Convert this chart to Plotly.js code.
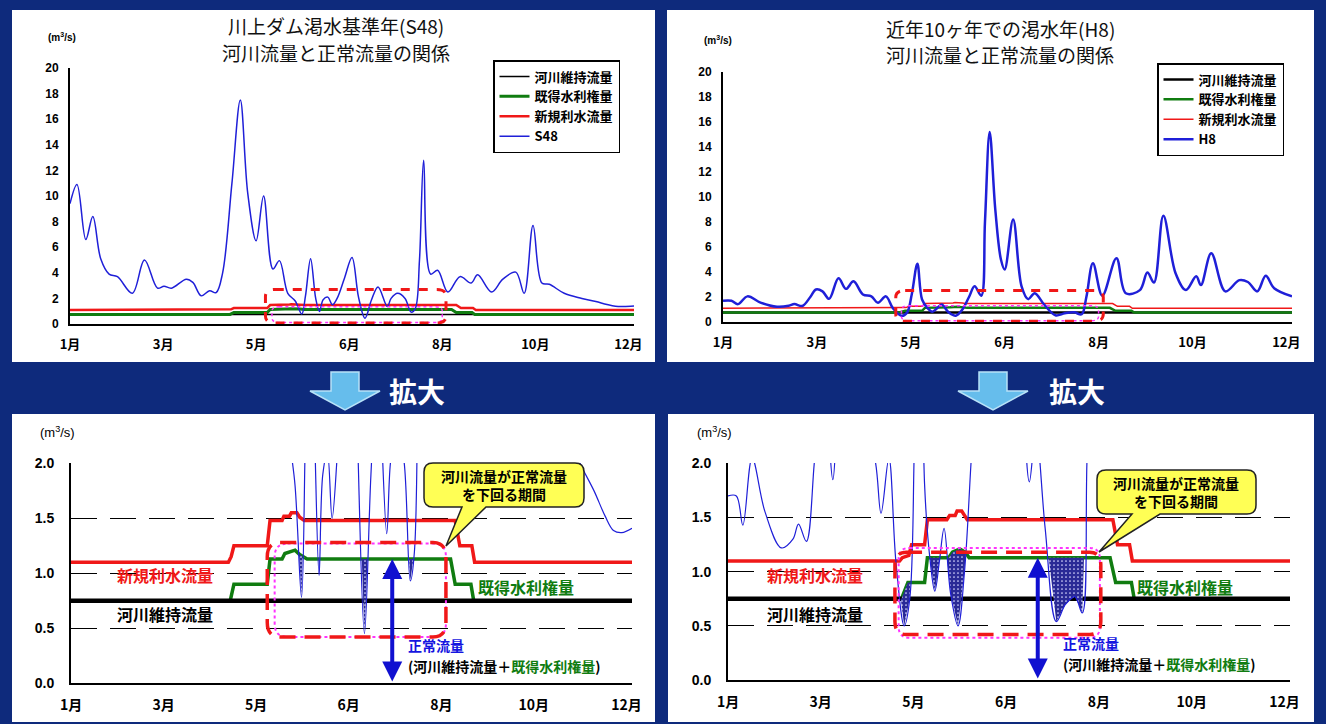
<!DOCTYPE html>
<html><head><meta charset="utf-8">
<script src="https://cdn.plot.ly/plotly-3.0.1.min.js"></script>
<style>html,body{margin:0;padding:0;background:#0e2a7c;}#chart{width:1326px;height:724px;}</style>
</head><body><div id="chart"></div>
<script>
// ---------- tick labels ----------
const monthTickVals = [0, 1, 2, 3, 4, 5, 6];
const monthTickText = ['1月', '3月', '5月', '6月', '8月', '10月', '12月'];

// ---------- river flow S48 (m3/s) ----------
const tS48 = [0, 0.075, 0.17, 0.245, 0.33, 0.42, 0.51, 0.67, 0.8, 0.94, 1.01, 1.09, 1.25, 1.32, 1.41, 1.5, 1.57, 1.64,
  1.74, 1.83, 1.91, 2.0, 2.08, 2.18, 2.25, 2.34, 2.42, 2.49, 2.53, 2.585, 2.64, 2.68, 2.72, 2.77, 2.82, 2.87, 2.95,
  3.03, 3.1, 3.17, 3.24, 3.31, 3.41, 3.45, 3.52, 3.6, 3.665, 3.71, 3.755, 3.8, 3.875, 3.95, 4.06, 4.19, 4.31, 4.38,
  4.53, 4.65, 4.79, 4.88, 4.975, 5.07, 5.15, 5.31, 5.5, 5.65, 5.77, 5.86, 5.95, 6.06];
const vS48 = [9.4, 10.9, 6.6, 8.4, 5.1, 3.9, 3.7, 2.4, 5.0, 2.8, 2.95, 2.8, 3.5, 3.25, 2.2, 2.6, 2.45, 4.0,
  11.0, 17.5, 10.2, 6.5, 10.0, 4.3, 4.95, 2.4, 1.8, 0.78, 2.2, 5.1, 2.0, 0.98, 1.9, 2.1, 1.5, 2.0, 3.6,
  5.2, 2.1, 0.45, 1.9, 2.9, 1.36, 2.0, 2.4, 2.0, 0.93, 1.2, 5.0, 12.8, 3.9, 4.2, 2.5, 3.7, 3.2, 3.85,
  2.5, 3.5, 4.05, 2.4, 7.7, 3.2, 3.1, 2.4, 2.0, 1.75, 1.52, 1.39, 1.37, 1.41];

// ---------- river flow H8 (m3/s) ----------
const tH8 = [0, 0.09, 0.16, 0.26, 0.40, 0.575, 0.70, 0.76, 0.845, 0.93, 0.99, 1.06, 1.13, 1.23, 1.31, 1.39, 1.49, 1.58,
  1.65, 1.735, 1.81, 1.90, 1.96, 2.01, 2.07, 2.12, 2.18, 2.23, 2.28, 2.33, 2.40, 2.48, 2.55, 2.62, 2.68, 2.75, 2.79,
  2.84, 2.90, 2.96, 3.0, 3.09, 3.18, 3.25, 3.32, 3.42, 3.54, 3.64, 3.74, 3.82, 3.87, 3.94, 4.04, 4.19, 4.29, 4.44,
  4.52, 4.59, 4.69, 4.82, 4.93, 5.04, 5.09, 5.20, 5.35, 5.50, 5.59, 5.69, 5.78, 5.87, 6.06];
const vH8 = [1.70, 1.70, 1.43, 2.05, 1.55, 1.22, 1.30, 1.44, 1.28, 2.0, 2.6, 2.45, 1.85, 3.5, 2.65, 3.25, 2.2, 2.05,
  1.54, 2.05, 1.1, 0.5, 0.75, 2.2, 4.65, 1.8, 1.1, 0.82, 1.1, 1.4, 0.8, 0.5, 1.0, 2.0, 2.85, 2.1, 8.0,
  15.2, 9.0, 5.0, 4.2, 8.2, 2.85, 1.83, 2.3, 1.4, 0.54, 0.7, 0.77, 0.62, 2.0, 4.7, 2.1, 5.1, 2.3, 2.55,
  3.95, 3.15, 8.5, 3.9, 2.55, 3.65, 2.95, 5.5, 2.45, 3.35, 3.2, 2.45, 3.7, 2.7, 2.05];

// ---------- maintenance flow 河川維持流量 ----------
const tMaint = [0, 6.06];
const vMaint = [0.75, 0.75];

// ---------- 既得水利権量 / 新規利水流量 (S48) ----------
const tRightsS48 = [0, 1.72, 1.76, 2.12, 2.15, 2.28, 2.31, 2.38, 2.42, 2.47, 2.52, 2.55, 4.1, 4.15, 4.32, 4.35, 6.06];
const vRightsS48 = [0.75, 0.75, 0.9, 0.9, 1.13, 1.13, 1.18, 1.2, 1.21, 1.17, 1.14, 1.13, 1.13, 0.9, 0.9, 0.75, 0.75];
const tNewS48 = [0, 1.7, 1.73, 1.76, 2.12, 2.15, 2.28, 2.3, 2.36, 2.38, 2.44, 2.47, 2.52, 4.15, 4.2, 4.33, 4.36, 6.06];
const vNewS48 = [1.1, 1.1, 1.15, 1.25, 1.25, 1.48, 1.48, 1.52, 1.52, 1.55, 1.55, 1.51, 1.48, 1.48, 1.25, 1.25, 1.1, 1.1];

// ---------- 既得水利権量 / 新規利水流量 (H8) ----------
const tRightsH8 = [0, 1.87, 1.94, 2.12, 2.15, 2.38, 2.42, 2.5, 2.56, 2.6, 4.12, 4.18, 4.35, 4.38, 6.06];
const vRightsH8 = [0.75, 0.75, 0.9, 0.9, 1.13, 1.13, 1.18, 1.21, 1.18, 1.13, 1.13, 0.9, 0.9, 0.75, 0.75];
const tNewH8 = [0, 1.85, 1.88, 1.95, 1.98, 2.12, 2.15, 2.36, 2.39, 2.45, 2.47, 2.52, 2.55, 2.58, 4.15, 4.2, 4.33, 4.36, 6.06];
const vNewH8 = [1.1, 1.1, 1.13, 1.15, 1.25, 1.25, 1.48, 1.48, 1.52, 1.52, 1.56, 1.56, 1.52, 1.48, 1.48, 1.25, 1.25, 1.1, 1.1];

// ---------- highlighted periods (t0, t1) ----------
const periodS48 = [2.12, 4.05];
const periodH8 = [1.82, 4.03];

// ======================================================
const W = 1326, H = 724;
const px = x => x / W;
const py = y => 1 - y / H;
const JP = '"Noto Sans CJK JP", "Noto Sans", sans-serif';
const NUM = '"Liberation Sans", Arial, "Noto Sans CJK JP", sans-serif';
const BLUE = '#1f1fd8', RED = '#f01818', GREEN = '#107c10', BLACK = '#000000';

function lerp(ts, vs, t) {
  if (t <= ts[0]) return vs[0];
  for (let i = 0; i < ts.length - 1; i++) {
    if (t <= ts[i + 1]) {
      const a = ts[i], b = ts[i + 1];
      return b === a ? vs[i + 1] : vs[i] + (vs[i + 1] - vs[i]) * (t - a) / (b - a);
    }
  }
  return vs[vs.length - 1];
}
function deficit(tB, vB, tG, vG) {
  const ts = Array.from(new Set([...tB, ...tG])).sort((a, b) => a - b);
  const d = t => lerp(tB, vB, t) - lerp(tG, vG, t);
  const out = [];
  for (let i = 0; i < ts.length; i++) {
    out.push(ts[i]);
    if (i < ts.length - 1) {
      const d0 = d(ts[i]), d1 = d(ts[i + 1]);
      if (d0 * d1 < 0) out.push(ts[i] + (ts[i + 1] - ts[i]) * d0 / (d0 - d1));
    }
  }
  return {
    x: out,
    low: out.map(t => Math.min(lerp(tB, vB, t), lerp(tG, vG, t))),
    top: out.map(t => lerp(tG, vG, t))
  };
}

const traces = [];
function topPanel(xa, ya, leg, tB, vB, nameB, tR, vR, tN, vN, w) {
  traces.push({x: tMaint, y: vMaint, name: '河川維持流量', mode: 'lines', xaxis: xa, yaxis: ya, legend: leg,
    line: {color: BLACK, width: w.k}, hoverinfo: 'skip'});
  traces.push({x: tR, y: vR, name: '既得水利権量', mode: 'lines', xaxis: xa, yaxis: ya, legend: leg,
    line: {color: GREEN, width: w.g}, hoverinfo: 'skip'});
  traces.push({x: tN, y: vN, name: '新規利水流量', mode: 'lines', xaxis: xa, yaxis: ya, legend: leg,
    line: {color: RED, width: w.r}, hoverinfo: 'skip'});
  traces.push({x: tB, y: vB, name: nameB, mode: 'lines', xaxis: xa, yaxis: ya, legend: leg,
    line: {color: BLUE, width: w.b, shape: 'spline', smoothing: 1}, hoverinfo: 'skip'});
}
function bottomPanel(xa, ya, tB, vB, tR, vR, tN, vN) {
  const common = {mode: 'lines', xaxis: xa, yaxis: ya, showlegend: false, hoverinfo: 'skip'};
  traces.push(Object.assign({x: tR, y: vR, line: {color: GREEN, width: 3.5}}, common));
  traces.push(Object.assign({x: tN, y: vN, line: {color: RED, width: 3.5}}, common));
  traces.push(Object.assign({x: tMaint, y: vMaint, line: {color: BLACK, width: 4.5}}, common));
  const f = deficit(tB, vB, tR, vR);
  traces.push(Object.assign({x: f.x, y: f.low, line: {width: 0, color: 'rgba(0,0,0,0)'}}, common));
  traces.push(Object.assign({x: f.x, y: f.top, line: {width: 0, color: 'rgba(0,0,0,0)'}, fill: 'tonexty',
    fillcolor: '#2a2a96',
    fillpattern: {shape: '.', bgcolor: '#2a2a96', fgcolor: '#d8d8ff', size: 4, solidity: 0.15}}, common));
  traces.push(Object.assign({x: tB, y: vB, line: {color: BLUE, width: 1.2, shape: 'spline', smoothing: 1}}, common));
}

topPanel('x', 'y', 'legend', tS48, vS48, 'S48', tRightsS48, vRightsS48, tNewS48, vNewS48, {k: 1.5, g: 3, r: 2.5, b: 1.5});
topPanel('x2', 'y2', 'legend2', tH8, vH8, 'H8', tRightsH8, vRightsH8, tNewH8, vNewH8, {k: 2.5, g: 2.5, r: 1.5, b: 2.5});
bottomPanel('x3', 'y3', tS48, vS48, tRightsS48, vRightsS48, tNewS48, vNewS48);
bottomPanel('x4', 'y4', tH8, vH8, tRightsH8, vRightsH8, tNewH8, vNewH8);

// ---------- axes ----------
function xAxis(x0, x1, anchor, size, standoff) {
  return {domain: [px(x0), px(x1)], range: [0, 6.06], anchor: anchor, tickvals: monthTickVals, ticktext: monthTickText,
    showline: true, linecolor: '#000', linewidth: 2, ticks: '', showgrid: false, zeroline: false, fixedrange: true,
    ticklabelstandoff: standoff, tickfont: {family: JP, size: size, color: '#000', weight: 'bold'}};
}
function yAxisTop(y0, y1, anchor) {
  return {domain: [py(y1), py(y0)], range: [0, 20], dtick: 2, tick0: 0, anchor: anchor,
    showline: true, linecolor: '#000', linewidth: 2, ticks: '', showgrid: false, zeroline: false, fixedrange: true,
    ticklabelstandoff: 7, tickfont: {family: NUM, size: 12, color: '#000', weight: 'bold'}};
}
function yAxisBottom(y0, y1, anchor) {
  return {domain: [py(y1), py(y0)], range: [0, 2.004], dtick: 0.5, tick0: 0, tickformat: '.1f', anchor: anchor,
    showline: true, linecolor: '#000', linewidth: 2, ticks: '', showgrid: true, gridcolor: '#000', gridwidth: 1,
    griddash: '26px,13px', zeroline: false, fixedrange: true,
    ticklabelstandoff: 12, tickfont: {family: NUM, size: 14, color: '#000', weight: 'bold'}};
}

// ---------- shapes ----------
function rrect(x0, x1, y0, y1, rx, ry) {
  return `M${x0 + rx},${y1} L${x1 - rx},${y1} Q${x1},${y1} ${x1},${y1 - ry} L${x1},${y0 + ry} Q${x1},${y0} ${x1 - rx},${y0} ` +
    `L${x0 + rx},${y0} Q${x0},${y0} ${x0},${y0 + ry} L${x0},${y1 - ry} Q${x0},${y1} ${x0 + rx},${y1} Z`;
}
const P = (x, y) => `${px(x)},${py(y)}`;
function callout(x0, x1, y0, y1, a, b, tx, ty) {
  const r = 9;
  return `M${P(x0 + r, y0)} L${P(x1 - r, y0)} Q${P(x1, y0)} ${P(x1, y0 + r)} L${P(x1, y1 - r)} Q${P(x1, y1)} ${P(x1 - r, y1)} ` +
    `L${P(b, y1)} L${P(tx, ty)} L${P(a, y1)} L${P(x0 + r, y1)} Q${P(x0, y1)} ${P(x0, y1 - r)} L${P(x0, y0 + r)} Q${P(x0, y0)} ${P(x0 + r, y0)} Z`;
}
function downArrow(cx) {
  return `M${P(cx - 14, 372)} L${P(cx + 14, 372)} L${P(cx + 14, 391)} L${P(cx + 35, 391)} L${P(cx, 410)} ` +
    `L${P(cx - 35, 391)} L${P(cx - 14, 391)} Z`;
}
const shapes = [
  // panels
  {type: 'rect', xref: 'paper', yref: 'paper', x0: px(12), x1: px(655), y0: py(362), y1: py(10), fillcolor: '#fff', line: {width: 0}, layer: 'below'},
  {type: 'rect', xref: 'paper', yref: 'paper', x0: px(667), x1: px(1314), y0: py(362), y1: py(10), fillcolor: '#fff', line: {width: 0}, layer: 'below'},
  {type: 'rect', xref: 'paper', yref: 'paper', x0: px(12), x1: px(655), y0: py(722), y1: py(414), fillcolor: '#fff', line: {width: 0}, layer: 'below'},
  {type: 'rect', xref: 'paper', yref: 'paper', x0: px(668), x1: px(1314), y0: py(722), y1: py(414), fillcolor: '#fff', line: {width: 0}, layer: 'below'},
  // 拡大 arrows
  {type: 'path', xref: 'paper', yref: 'paper', path: downArrow(345), fillcolor: '#66bdec', line: {color: '#b8e2f8', width: 1.5}},
  {type: 'path', xref: 'paper', yref: 'paper', path: downArrow(993), fillcolor: '#66bdec', line: {color: '#b8e2f8', width: 1.5}},
  // top-left highlight boxes
  {type: 'path', xref: 'x', yref: 'y', path: rrect(2.17, 4.0, 0.12, 1.35, 0.08, 0.35), line: {color: '#ff33ff', width: 1.5, dash: 'dot'}},
  {type: 'path', xref: 'x', yref: 'y', path: rrect(periodS48[0] - 0.02, periodS48[1] - 0.01, 0.08, 2.7, 0.1, 0.55), line: {color: RED, width: 3, dash: 'dash'}},
  // top-right highlight boxes
  {type: 'path', xref: 'x2', yref: 'y2', path: rrect(1.9, 4.0, 0.1, 1.3, 0.08, 0.35), line: {color: '#ff33ff', width: 1.5, dash: 'dot'}},
  {type: 'path', xref: 'x2', yref: 'y2', path: rrect(periodH8[0] + 0.02, periodH8[1] + 0.02, 0.06, 2.52, 0.1, 0.55), line: {color: RED, width: 3, dash: 'dash'}},
  // bottom-left
  {type: 'path', xref: 'x3', yref: 'y3', path: rrect(periodS48[0] + 0.08, periodS48[1], 0.42, 1.27, 0.14, 0.12), line: {color: '#ff33ff', width: 2, dash: 'dot'}},
  {type: 'path', xref: 'x3', yref: 'y3', path: rrect(periodS48[0], periodS48[1], 0.42, 1.28, 0.14, 0.13), line: {color: RED, width: 3.5, dash: '16px,9px'}},
  // bottom-right
  {type: 'path', xref: 'x4', yref: 'y4', path: rrect(periodH8[0] + 0.02, periodH8[1] - 0.02, 0.39, 1.22, 0.12, 0.1), line: {color: '#ff33ff', width: 2, dash: 'dot'}},
  {type: 'path', xref: 'x4', yref: 'y4', path: rrect(periodH8[0] - 0.02, periodH8[1] - 0.01, 0.42, 1.18, 0.12, 0.12), line: {color: RED, width: 3.5, dash: '16px,9px'}},
  // callouts
  {type: 'path', xref: 'paper', yref: 'paper', path: callout(424, 584, 463, 507, 462, 486, 446, 546), fillcolor: '#ffff55', line: {color: '#222', width: 1.5}},
  {type: 'path', xref: 'paper', yref: 'paper', path: callout(1097, 1256, 470, 514, 1132, 1160, 1099, 552), fillcolor: '#ffff55', line: {color: '#222', width: 1.5}}
];

// ---------- annotations ----------
function txt(x, y, text, size, color, weight, family, xanchor) {
  return {xref: 'paper', yref: 'paper', x: px(x), y: py(y), text: text, showarrow: false,
    xanchor: xanchor || 'center', yanchor: 'middle',
    font: {family: family || JP, size: size, color: color, weight: weight || 'bold'}};
}
const unit = '(m<sup>3</sup>/s)';
const annotations = [
  txt(336, 26, '川上ダム渇水基準年(S48)', 19, '#111', 'normal'),
  txt(336, 52, '河川流量と正常流量の関係', 19, '#111', 'normal'),
  txt(1000, 29, '近年10ヶ年での渇水年(H8)', 19, '#111', 'normal'),
  txt(1000, 55, '河川流量と正常流量の関係', 19, '#111', 'normal'),
  txt(62, 37, unit, 10, '#000', 'bold', NUM),
  txt(718, 40, unit, 10, '#000', 'bold', NUM),
  txt(58, 432, unit, 13, '#000', 'normal', NUM),
  txt(714, 432, unit, 13, '#000', 'normal', NUM),
  txt(417, 391, '拡大', 28, '#ffffff', 'bold'),
  txt(1077, 391, '拡大', 28, '#ffffff', 'bold'),
  // bottom-left labels
  txt(165, 575, '新規利水流量', 16, RED),
  txt(165, 614, '河川維持流量', 16, '#000'),
  txt(526, 587, '既得水利権量', 16, GREEN),
  txt(406, 645, '正常流量', 14, '#1515e0', 'bold', JP, 'left'),
  txt(406, 666, '(河川維持流量＋<span style="color:' + GREEN + '">既得水利権量</span>)', 14, '#000', 'bold', JP, 'left'),
  txt(504, 485, '河川流量が正常流量<br>を下回る期間', 14, '#000'),
  // bottom-right labels
  txt(815, 575, '新規利水流量', 16, RED),
  txt(815, 614, '河川維持流量', 16, '#000'),
  txt(1185, 587, '既得水利権量', 16, GREEN),
  txt(1061, 643, '正常流量', 14, '#1515e0', 'bold', JP, 'left'),
  txt(1061, 664, '(河川維持流量＋<span style="color:' + GREEN + '">既得水利権量</span>)', 14, '#000', 'bold', JP, 'left'),
  txt(1176, 492, '河川流量が正常流量<br>を下回る期間', 14, '#000'),
  // double arrows 正常流量
  {xref: 'x3', yref: 'y3', axref: 'x3', ayref: 'y3', x: 3.47, y: lerp(tRightsS48, vRightsS48, 3.47), ax: 3.47, ay: 0,
    text: '', showarrow: true, arrowside: 'end+start', arrowhead: 2, arrowsize: 1, arrowwidth: 4, arrowcolor: '#1010d0', standoff: 0, startstandoff: 0},
  {xref: 'x4', yref: 'y4', axref: 'x4', ayref: 'y4', x: 3.34, y: lerp(tRightsH8, vRightsH8, 3.34), ax: 3.34, ay: 0,
    text: '', showarrow: true, arrowside: 'end+start', arrowhead: 2, arrowsize: 1, arrowwidth: 4, arrowcolor: '#1010d0', standoff: 0, startstandoff: 0}
];

const legendStyle = (x, y) => ({x: px(x), y: py(y), xanchor: 'left', yanchor: 'top', bgcolor: '#fff',
  bordercolor: '#000', borderwidth: 1.5, itemwidth: 30, tracegroupgap: 0, traceorder: 'normal',
  font: {family: JP, size: 13, color: '#000', weight: 'bold'}});

const layout = {
  width: W, height: H, autosize: false,
  margin: {l: 0, r: 0, t: 0, b: 0, pad: 0},
  paper_bgcolor: '#0e2a7c', plot_bgcolor: 'rgba(0,0,0,0)',
  showlegend: true,
  legend: legendStyle(493, 60),
  legend2: legendStyle(1157, 63),
  xaxis: xAxis(70, 634, 'y', 13, 7),
  yaxis: yAxisTop(68, 324, 'x'),
  xaxis2: xAxis(723, 1292, 'y2', 13, 7),
  yaxis2: yAxisTop(72, 322, 'x2'),
  xaxis3: xAxis(71, 632, 'y3', 14, 8),
  yaxis3: yAxisBottom(463, 683, 'x3'),
  xaxis4: xAxis(728, 1290, 'y4', 14, 8),
  yaxis4: yAxisBottom(463, 680, 'x4'),
  shapes: shapes,
  annotations: annotations
};

Plotly.newPlot('chart', traces, layout, {staticPlot: true, displayModeBar: false});
</script>
</body></html>
